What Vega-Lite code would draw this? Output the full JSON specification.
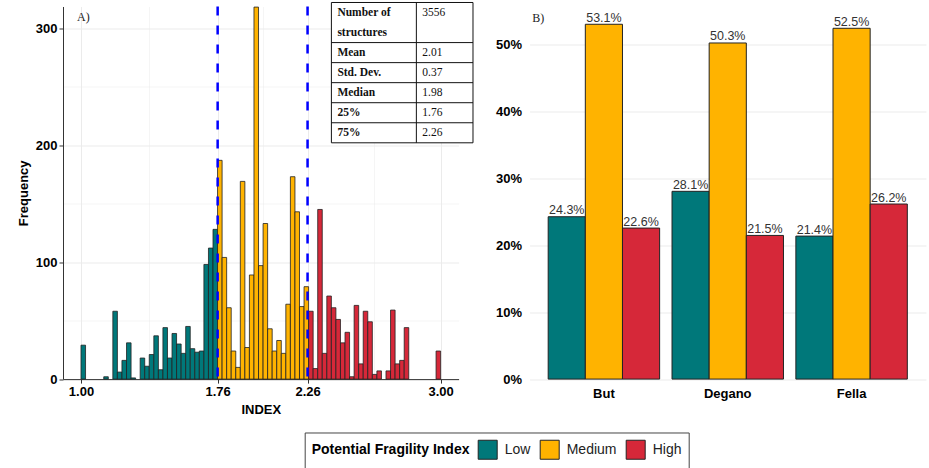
{
  "$schema": "https://vega.github.io/schema/vega-lite/v6.json",
  "background": "white",
  "padding": {"left": 17, "top": 1.5, "right": 2, "bottom": 2},
  "datasets": {
    "hist": [
      {"x0": 1.0000, "x1": 1.0253, "n": 29, "level": "Low"},
      {"x0": 1.1266, "x1": 1.1519, "n": 2, "level": "Low"},
      {"x0": 1.1772, "x1": 1.2025, "n": 58, "level": "Low"},
      {"x0": 1.2025, "x1": 1.2278, "n": 6, "level": "Low"},
      {"x0": 1.2278, "x1": 1.2532, "n": 16, "level": "Low"},
      {"x0": 1.2532, "x1": 1.2785, "n": 31, "level": "Low"},
      {"x0": 1.2785, "x1": 1.3038, "n": 1, "level": "Low"},
      {"x0": 1.3291, "x1": 1.3544, "n": 18, "level": "Low"},
      {"x0": 1.3544, "x1": 1.3797, "n": 11, "level": "Low"},
      {"x0": 1.3797, "x1": 1.4051, "n": 21, "level": "Low"},
      {"x0": 1.4051, "x1": 1.4304, "n": 37, "level": "Low"},
      {"x0": 1.4304, "x1": 1.4557, "n": 8, "level": "Low"},
      {"x0": 1.4557, "x1": 1.4810, "n": 44, "level": "Low"},
      {"x0": 1.4810, "x1": 1.5063, "n": 18, "level": "Low"},
      {"x0": 1.5063, "x1": 1.5316, "n": 39, "level": "Low"},
      {"x0": 1.5316, "x1": 1.5570, "n": 30, "level": "Low"},
      {"x0": 1.5570, "x1": 1.5823, "n": 22, "level": "Low"},
      {"x0": 1.5823, "x1": 1.6076, "n": 45, "level": "Low"},
      {"x0": 1.6076, "x1": 1.6329, "n": 26, "level": "Low"},
      {"x0": 1.6329, "x1": 1.6582, "n": 23, "level": "Low"},
      {"x0": 1.6582, "x1": 1.6835, "n": 24, "level": "Low"},
      {"x0": 1.6835, "x1": 1.7089, "n": 98, "level": "Low"},
      {"x0": 1.7089, "x1": 1.7342, "n": 112, "level": "Low"},
      {"x0": 1.7342, "x1": 1.7595, "n": 128, "level": "Low"},
      {"x0": 1.7595, "x1": 1.7848, "n": 187, "level": "Medium"},
      {"x0": 1.7848, "x1": 1.8101, "n": 104, "level": "Medium"},
      {"x0": 1.8101, "x1": 1.8354, "n": 61, "level": "Medium"},
      {"x0": 1.8354, "x1": 1.8608, "n": 24, "level": "Medium"},
      {"x0": 1.8608, "x1": 1.8861, "n": 10, "level": "Medium"},
      {"x0": 1.8861, "x1": 1.9114, "n": 169, "level": "Medium"},
      {"x0": 1.9114, "x1": 1.9367, "n": 27, "level": "Medium"},
      {"x0": 1.9367, "x1": 1.9620, "n": 89, "level": "Medium"},
      {"x0": 1.9620, "x1": 1.9873, "n": 318, "level": "Medium"},
      {"x0": 1.9873, "x1": 2.0127, "n": 97, "level": "Medium"},
      {"x0": 2.0127, "x1": 2.0380, "n": 133, "level": "Medium"},
      {"x0": 2.0380, "x1": 2.0633, "n": 43, "level": "Medium"},
      {"x0": 2.0633, "x1": 2.0886, "n": 24, "level": "Medium"},
      {"x0": 2.0886, "x1": 2.1139, "n": 33, "level": "Medium"},
      {"x0": 2.1139, "x1": 2.1392, "n": 22, "level": "Medium"},
      {"x0": 2.1392, "x1": 2.1646, "n": 64, "level": "Medium"},
      {"x0": 2.1646, "x1": 2.1899, "n": 173, "level": "Medium"},
      {"x0": 2.1899, "x1": 2.2152, "n": 143, "level": "Medium"},
      {"x0": 2.2152, "x1": 2.2405, "n": 62, "level": "Medium"},
      {"x0": 2.2405, "x1": 2.2658, "n": 79, "level": "Medium"},
      {"x0": 2.2658, "x1": 2.2911, "n": 58, "level": "High"},
      {"x0": 2.2911, "x1": 2.3165, "n": 9, "level": "High"},
      {"x0": 2.3165, "x1": 2.3418, "n": 145, "level": "High"},
      {"x0": 2.3418, "x1": 2.3671, "n": 22, "level": "High"},
      {"x0": 2.3671, "x1": 2.3924, "n": 71, "level": "High"},
      {"x0": 2.3924, "x1": 2.4177, "n": 61, "level": "High"},
      {"x0": 2.4177, "x1": 2.4430, "n": 51, "level": "High"},
      {"x0": 2.4430, "x1": 2.4684, "n": 31, "level": "High"},
      {"x0": 2.4684, "x1": 2.4937, "n": 40, "level": "High"},
      {"x0": 2.4937, "x1": 2.5190, "n": 2, "level": "High"},
      {"x0": 2.5190, "x1": 2.5443, "n": 63, "level": "High"},
      {"x0": 2.5443, "x1": 2.5696, "n": 13, "level": "High"},
      {"x0": 2.5696, "x1": 2.5949, "n": 58, "level": "High"},
      {"x0": 2.5949, "x1": 2.6203, "n": 49, "level": "High"},
      {"x0": 2.6203, "x1": 2.6456, "n": 4, "level": "High"},
      {"x0": 2.6456, "x1": 2.6709, "n": 7, "level": "High"},
      {"x0": 2.6962, "x1": 2.7215, "n": 7, "level": "High"},
      {"x0": 2.7215, "x1": 2.7468, "n": 59, "level": "High"},
      {"x0": 2.7468, "x1": 2.7722, "n": 13, "level": "High"},
      {"x0": 2.7722, "x1": 2.7975, "n": 16, "level": "High"},
      {"x0": 2.7975, "x1": 2.8228, "n": 44, "level": "High"},
      {"x0": 2.9747, "x1": 3.0000, "n": 24, "level": "High"}
    ],
    "quart": [{"q": 1.76}, {"q": 2.26}],
    "stats": [
      {"stat": "Number of", "val": "3556"},
      {"stat": "structures", "val": ""},
      {"stat": "Mean", "val": "2.01"},
      {"stat": "Std. Dev.", "val": "0.37"},
      {"stat": "Median", "val": "1.98"},
      {"stat": "25%", "val": "1.76"},
      {"stat": "75%", "val": "2.26"}
    ],
    "share": [
      {"site": "But", "level": "Low", "pct": 0.243},
      {"site": "But", "level": "Medium", "pct": 0.531},
      {"site": "But", "level": "High", "pct": 0.226},
      {"site": "Degano", "level": "Low", "pct": 0.281},
      {"site": "Degano", "level": "Medium", "pct": 0.503},
      {"site": "Degano", "level": "High", "pct": 0.215},
      {"site": "Fella", "level": "Low", "pct": 0.214},
      {"site": "Fella", "level": "Medium", "pct": 0.525},
      {"site": "Fella", "level": "High", "pct": 0.262}
    ]
  },
  "bounds": "flush",
  "spacing": 70.6,
  "hconcat": [
    {
      "width": 395.6,
      "height": 372.6,
      "layer": [
        {
          "layer": [
            {
              "data": {"name": "hist"},
              "mark": {"type": "rect", "stroke": "#222", "strokeWidth": 0.8},
              "encoding": {
                "x": {"field": "x0", "type": "quantitative", "title": "INDEX",
                  "scale": {"domain": [0.9, 3.1], "nice": false, "zero": false},
                  "axis": {
                    "values": [1, 1.38, 1.76, 2.01, 2.26, 2.63, 3],
                    "labelExpr": "indexof([1,1.76,2.26,3], datum.value) >= 0 ? format(datum.value, '.2f') : ''",
                    "labelOverlap": false, "labelFlush": false,
                    "tickOpacity": {"condition": {"test": "indexof([1,1.76,2.26,3], datum.value) >= 0", "value": 1}, "value": 0},
                    "gridWidth": {"condition": {"test": "indexof([1,1.76,2.26,3], datum.value) >= 0", "value": 1}, "value": 0.5},
                    "grid": true, "domain": true, "domainColor": "#333", "tickColor": "#333", "tickSize": 4, "labelPadding": 2, "titlePadding": 5
                  }
                },
                "x2": {"field": "x1"},
                "y": {"field": "n", "type": "quantitative", "title": "Frequency",
                  "scale": {"domain": [0, 318.5], "nice": false},
                  "axis": {
                    "values": [0, 50, 100, 150, 200, 250, 300],
                    "labelExpr": "datum.value % 100 === 0 ? datum.label : ''",
                    "labelOverlap": false,
                    "tickOpacity": {"condition": {"test": "datum.value % 100 === 0", "value": 1}, "value": 0},
                    "gridWidth": {"condition": {"test": "datum.value % 100 === 0", "value": 1}, "value": 0.5},
                    "grid": true, "domain": true, "domainColor": "#333", "tickColor": "#333", "tickSize": 4, "labelPadding": 2, "titlePadding": 5
                  }
                },
                "y2": {"datum": 0},
                "color": {"field": "level", "type": "nominal", "title": "Potential Fragility Index",
                  "scale": {"domain": ["Low", "Medium", "High"], "range": ["#00787A", "#FFB300", "#D62839"]}
                }
              }
            },
            {
              "data": {"name": "quart"},
              "mark": {"type": "rule", "color": "#0000FF", "strokeWidth": 2.5, "strokeDash": [9, 10]},
              "encoding": {"x": {"field": "q", "type": "quantitative"}}
            },
            {
              "data": {"values": [{"panel": "A)"}]},
              "mark": {"type": "text", "align": "left", "baseline": "alphabetic", "font": "Liberation Serif", "fontSize": 12, "color": "#222"},
              "encoding": {
                "x": {"datum": 0.978, "type": "quantitative"},
                "y": {"datum": 305.8, "type": "quantitative"},
                "text": {"field": "panel"}
              }
            }
          ]
        },
        {
          "layer": [
            {
              "data": {"values": [{"t": 1}]},
              "mark": {"type": "rect", "fill": "white", "stroke": "#111", "strokeWidth": 1},
              "encoding": {
                "x": {"datum": "stat", "type": "nominal", "bandPosition": 0,
                  "scale": {"domain": ["stat", "s2", "s3", "val", "v2"], "range": [268.4, 410], "paddingInner": 0, "paddingOuter": 0}, "axis": null},
                "x2": {"datum": "v2", "bandPosition": 1},
                "y": {"datum": "Number of", "type": "nominal", "bandPosition": 0,
                  "scale": {"domain": ["Number of", "structures", "Mean", "Std. Dev.", "Median", "25%", "75%"], "range": [-4, 136.3], "paddingInner": 0, "paddingOuter": 0}, "axis": null},
                "y2": {"datum": "75%", "bandPosition": 1}
              }
            },
            {
              "data": {"values": [{"t": 1}]},
              "mark": {"type": "rule", "color": "#111", "strokeWidth": 1},
              "encoding": {
                "x": {"datum": "val", "type": "nominal", "bandPosition": 0},
                "y": {"datum": "Number of", "type": "nominal", "bandPosition": 0},
                "y2": {"datum": "75%", "bandPosition": 1}
              }
            },
            {
              "data": {"name": "stats"},
              "transform": [{"filter": "datum.stat !== 'Number of' && datum.stat !== 'structures'"}],
              "mark": {"type": "rule", "color": "#111", "strokeWidth": 1},
              "encoding": {
                "x": {"datum": "stat", "type": "nominal", "bandPosition": 0},
                "x2": {"datum": "v2", "bandPosition": 1},
                "y": {"field": "stat", "type": "nominal", "bandPosition": 0}
              }
            },
            {
              "data": {"name": "stats"},
              "mark": {"type": "text", "align": "left", "baseline": "middle", "dx": 6, "font": "Liberation Serif", "fontSize": 11.5, "fontWeight": "bold", "color": "#111"},
              "encoding": {
                "x": {"datum": "stat", "type": "nominal", "bandPosition": 0},
                "y": {"field": "stat", "type": "nominal", "bandPosition": 0.5},
                "text": {"field": "stat"}
              }
            },
            {
              "data": {"name": "stats"},
              "mark": {"type": "text", "align": "left", "baseline": "middle", "dx": 6, "font": "Liberation Serif", "fontSize": 11.5, "color": "#111"},
              "encoding": {
                "x": {"datum": "val", "type": "nominal", "bandPosition": 0},
                "y": {"field": "stat", "type": "nominal", "bandPosition": 0.5},
                "text": {"field": "val"},
                "fontWeight": {"condition": {"test": "datum.stat === 'Number of'", "value": "bold"}, "value": "normal"}
              }
            }
          ]
        }
      ],
      "resolve": {"scale": {"x": "independent", "y": "independent"}, "axis": {"x": "independent", "y": "independent"}}
    },
    {
      "width": 396.3,
      "height": 372.6,
      "layer": [
        {
          "data": {"name": "share"},
          "mark": {"type": "bar", "stroke": "#222", "strokeWidth": 1},
          "encoding": {
            "x": {"field": "site", "type": "nominal", "title": null,
              "scale": {"domain": ["But", "Degano", "Fella"], "paddingInner": 0.1, "paddingOuter": 0.15},
              "axis": {"ticks": false, "domain": false, "labelAngle": 0, "labelPadding": 8, "grid": false}},
            "y": {"field": "pct", "type": "quantitative", "title": null,
              "scale": {"domain": [0, 0.5576], "nice": false},
              "axis": {
                "values": [0, 0.05, 0.1, 0.15, 0.2, 0.25, 0.3, 0.35, 0.4, 0.45, 0.5, 0.55],
                "labelExpr": "round(datum.value * 100) % 10 === 0 ? format(datum.value, '.0%') : ''",
                "labelOverlap": false,
                "ticks": false, "domain": false, "labelPadding": 8,
                "grid": true,
                "gridWidth": {"condition": {"test": "round(datum.value * 100) % 10 === 0", "value": 1}, "value": 0.5}
              }
            },
            "xOffset": {"field": "level", "type": "nominal", "sort": ["Low", "Medium", "High"], "scale": {"domain": ["Low", "Medium", "High"], "paddingInner": 0, "paddingOuter": 0}},
            "color": {"field": "level", "type": "nominal", "title": "Potential Fragility Index",
              "scale": {"domain": ["Low", "Medium", "High"], "range": ["#00787A", "#FFB300", "#D62839"]}}
          }
        },
        {
          "data": {"name": "share"},
          "mark": {"type": "text", "baseline": "alphabetic", "dy": -2.5, "font": "Liberation Sans", "fontSize": 12.5, "color": "#333"},
          "encoding": {
            "x": {"field": "site", "type": "nominal"},
            "y": {"field": "pct", "type": "quantitative"},
            "xOffset": {"field": "level", "type": "nominal", "sort": ["Low", "Medium", "High"]},
            "text": {"field": "pct", "type": "quantitative", "format": ".1%"}
          }
        },
        {
          "data": {"values": [{"panel": "B)"}]},
          "mark": {"type": "text", "align": "left", "baseline": "alphabetic", "dx": -16, "font": "Liberation Serif", "fontSize": 12, "color": "#222"},
          "encoding": {
            "x": {"datum": "But", "type": "nominal", "bandPosition": 0},
            "y": {"datum": 0.535, "type": "quantitative"},
            "text": {"field": "panel"}
          }
        }
      ]
    }
  ],
  "resolve": {"scale": {"color": "shared"}, "legend": {"color": "shared"}},
  "config": {
    "view": {"stroke": null},
    "font": "Liberation Sans",
    "axis": {
      "gridColor": "#EBEBEB",
      "labelFont": "Liberation Sans", "labelFontSize": 13, "labelFontWeight": "bold", "labelColor": "#000",
      "titleFont": "Liberation Sans", "titleFontSize": 13, "titleFontWeight": "bold", "titleColor": "#000"
    },
    "legend": {
      "orient": "none", "legendX": 241.7, "legendY": 426, "direction": "horizontal", "titleOrient": "left",
      "titleFont": "Liberation Sans", "titleFontSize": 14, "titleFontWeight": "bold", "titleColor": "#000", "titlePadding": 8,
      "labelFont": "Liberation Sans", "labelFontSize": 14, "labelColor": "#222", "labelOffset": 7,
      "columnPadding": 7, "symbolType": "square", "symbolSize": 361, "symbolStrokeColor": "#222", "symbolStrokeWidth": 1, "symbolOpacity": 1,
      "strokeColor": "#444", "padding": 7
    }
  }
}
